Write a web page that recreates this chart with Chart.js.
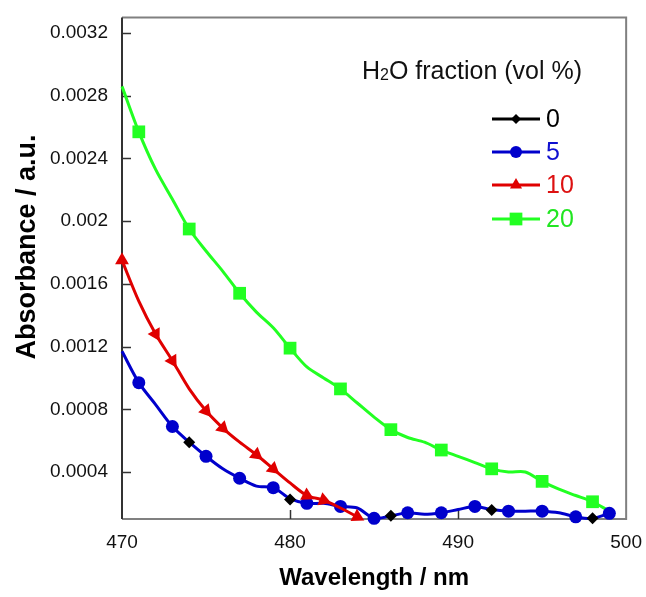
<!DOCTYPE html>
<html>
<head>
<meta charset="utf-8">
<script src="https://cdn.jsdelivr.net/npm/chart.js@4.4.0/dist/chart.umd.min.js"></script>
<style>
  html, body { margin: 0; padding: 0; background: #fff; }
</style>
</head>
<body>
<canvas id="absorbanceChart" width="646" height="597"></canvas>
<script>
// Wavelength grid (nm)
const wl5 = [470, 471, 472, 473, 474, 475, 476, 477, 478, 479, 480, 481, 482, 483, 484,
             485, 486, 487, 488, 489, 490, 491, 492, 493, 494, 495, 496, 497, 498, 499];
const wl10 = [470, 471, 472, 473, 474, 475, 476, 477, 478, 479, 480, 481, 482, 483, 484];
const wl20 = wl5;
const wl0 = [474, 480, 486, 492, 498];

// Absorbance per H2O fraction
const abs0 = [0.00059, 0.000225, 0.00012, 0.000157, 0.000104];
const abs5 = [0.00117, 0.00097, 0.00083, 0.00069, 0.00059, 0.00050, 0.00042, 0.00036, 0.00031, 0.00030,
              0.00023, 0.00020, 0.00020, 0.00018, 0.00017, 0.000104, 0.00012, 0.00014, 0.00013, 0.00014,
              0.00016, 0.00018, 0.00016, 0.00015, 0.00015, 0.00015, 0.00014, 0.000114, 0.000104, 0.000136];
const abs10 = [0.00175, 0.00149, 0.00128, 0.00111, 0.00093, 0.00079, 0.00068, 0.00059, 0.00051, 0.00042,
               0.00033, 0.00025, 0.00022, 0.00017, 0.000114];
const abs20 = [0.00286, 0.00257, 0.00233, 0.00214, 0.00195, 0.00181, 0.00168, 0.00154, 0.00142, 0.00132,
               0.00119, 0.00107, 0.00100, 0.00093, 0.00084, 0.00075, 0.00067, 0.00062, 0.00059, 0.00054,
               0.00050, 0.00046, 0.00042, 0.00040, 0.00040, 0.00034, 0.00029, 0.00025, 0.00021, 0.00015];

// wavelengths carrying a marker
const marks5 = [471, 473, 475, 477, 479, 481, 483, 485, 487, 489, 491, 493, 495, 497, 499];
const marks10 = [470, 472, 473, 475, 476, 478, 479, 481, 482, 484];
const marks20 = [471, 474, 477, 480, 483, 486, 489, 492, 495, 498];

const seriesLabels = ['0', '5', '10', '20'];
const xTicks = [470, 480, 490, 500];
const yTicks = [0.0004, 0.0008, 0.0012, 0.0016, 0.002, 0.0024, 0.0028, 0.0032];

const FONT = "'Liberation Sans', Arial, sans-serif";

function toPoints(xs, ys) {
    return xs.map((x, i) => ({ x: x, y: ys[i] }));
}

function markerRadius(marks, r) {
    return ctx => marks.includes(ctx.raw.x) ? r : 0;
}

// triangles point along the curve
function arrowRotation(ctx) {
    const data = ctx.dataset.data;
    const i = ctx.dataIndex;
    if (i === 0) return 0;
    const xs = ctx.chart.scales.x, ys = ctx.chart.scales.y;
    if (!xs || !ys) return 0;
    const a = data[i - 1], b = data[Math.min(i + 1, data.length - 1)];
    const dx = xs.getPixelForValue(b.x) - xs.getPixelForValue(a.x);
    const dy = ys.getPixelForValue(b.y) - ys.getPixelForValue(a.y);
    return 90 + Math.atan2(dy, dx) * 180 / Math.PI;
}

function drawMarker(ctx, style, x, y, r) {
    ctx.beginPath();
    if (style === 'circle') {
        ctx.arc(x, y, r, 0, Math.PI * 2);
    } else if (style === 'rect') {
        const s = r * Math.SQRT1_2;
        ctx.rect(x - s, y - s, 2 * s, 2 * s);
    } else if (style === 'rectRot') {
        ctx.moveTo(x, y - r); ctx.lineTo(x + r, y); ctx.lineTo(x, y + r); ctx.lineTo(x - r, y);
        ctx.closePath();
    } else if (style === 'triangle') {
        for (let k = 0; k < 3; k++) {
            const ang = -Math.PI / 2 + k * 2 * Math.PI / 3;
            const px = x + Math.cos(ang) * r, py = y + Math.sin(ang) * r;
            if (k === 0) ctx.moveTo(px, py); else ctx.lineTo(px, py);
        }
        ctx.closePath();
    }
    ctx.fill();
}

// Frame with inward tick marks, titles and legend
const framePlugin = {
    id: 'frame',
    beforeDatasetsDraw(chart) {
        const { ctx, chartArea: a, scales } = chart;
        ctx.save();
        ctx.lineWidth = 2;
        ctx.strokeStyle = '#808080';
        ctx.beginPath();
        ctx.moveTo(a.left, a.top); ctx.lineTo(a.right, a.top); ctx.lineTo(a.right, a.bottom); ctx.lineTo(a.left, a.bottom);
        ctx.stroke();
        ctx.strokeStyle = '#333';
        ctx.beginPath();
        ctx.moveTo(a.left, a.top); ctx.lineTo(a.left, a.bottom);
        ctx.stroke();
        ctx.lineWidth = 1.5;
        yTicks.forEach(v => {
            const y = Math.round(scales.y.getPixelForValue(v)) + 0.5;
            ctx.beginPath(); ctx.moveTo(a.left, y); ctx.lineTo(a.left + 9, y); ctx.stroke();
        });
        xTicks.slice(1, -1).forEach(v => {
            const x = Math.round(scales.x.getPixelForValue(v)) + 0.5;
            ctx.beginPath(); ctx.moveTo(x, a.bottom); ctx.lineTo(x, a.bottom - 9); ctx.stroke();
        });
        ctx.restore();
    },
    afterDraw(chart) {
        const { ctx, chartArea: a } = chart;
        ctx.save();
        ctx.fillStyle = '#000';
        ctx.textAlign = 'center';
        ctx.textBaseline = 'middle';
        ctx.font = 'bold 24px ' + FONT;
        ctx.fillText('Wavelength / nm', (a.left + a.right) / 2, 578);
        ctx.font = 'bold 27px ' + FONT;
        ctx.translate(28, 247);
        ctx.rotate(-Math.PI / 2);
        ctx.fillText('Absorbance / a.u.', 0, 0);
        ctx.restore();

        // legend
        ctx.save();
        ctx.fillStyle = '#111';
        ctx.textBaseline = 'alphabetic';
        ctx.textAlign = 'left';
        let tx = 362;
        const base = 79;
        ctx.font = '25px ' + FONT;
        ctx.fillText('H', tx, base); tx += ctx.measureText('H').width;
        ctx.font = '16px ' + FONT;
        ctx.fillText('2', tx, base + 1); tx += ctx.measureText('2').width;
        ctx.font = '25px ' + FONT;
        ctx.fillText('O fraction (vol %)', tx, base);

        const rowsY = [119, 152, 185, 219];
        const textColors = ['#000', '#1010d0', '#dd1111', '#22e622'];
        chart.data.datasets.forEach((ds, i) => {
            const y = rowsY[i];
            ctx.strokeStyle = ds.borderColor;
            ctx.lineWidth = 3;
            ctx.beginPath(); ctx.moveTo(492, y); ctx.lineTo(540, y); ctx.stroke();
            ctx.fillStyle = ds.backgroundColor;
            drawMarker(ctx, ds.pointStyle, 516, y, ds.legendRadius);
            ctx.fillStyle = textColors[i];
            ctx.font = '25px ' + FONT;
            ctx.textBaseline = 'middle';
            ctx.fillText(ds.label, 546, y + 1);
        });
        ctx.restore();
    }
};

const chartCtx = document.getElementById('absorbanceChart').getContext('2d');
new Chart(chartCtx, {
    type: 'line',
    data: {
        datasets: [
            {
                label: seriesLabels[0],
                data: toPoints(wl0, abs0),
                showLine: false,
                borderColor: '#000000',
                backgroundColor: '#000000',
                pointStyle: 'rectRot',
                pointRadius: 6,
                pointBorderWidth: 0,
                legendRadius: 5,
                order: 0
            },
            {
                label: seriesLabels[1],
                data: toPoints(wl5, abs5),
                borderColor: '#0000cc',
                backgroundColor: '#0000cc',
                pointStyle: 'circle',
                pointRadius: markerRadius(marks5, 6.5),
                legendRadius: 6,
                order: 2
            },
            {
                label: seriesLabels[2],
                data: toPoints(wl10, abs10),
                borderColor: '#e00000',
                backgroundColor: '#e00000',
                pointStyle: 'triangle',
                pointRadius: markerRadius(marks10, 8),
                pointRotation: arrowRotation,
                legendRadius: 7,
                order: 1
            },
            {
                label: seriesLabels[3],
                data: toPoints(wl20, abs20),
                borderColor: '#22ff22',
                backgroundColor: '#22ff22',
                pointStyle: 'rect',
                pointRadius: markerRadius(marks20, 9),
                legendRadius: 9,
                order: 3
            }
        ]
    },
    options: {
        responsive: false,
        animation: false,
        clip: false,
        elements: {
            line: { borderWidth: 3, tension: 0.3 },
            point: { borderWidth: 0, hoverRadius: 0 }
        },
        layout: { padding: { top: 3, right: 13, left: 0, bottom: 0 } },
        plugins: {
            legend: { display: false },
            tooltip: { enabled: false }
        },
        scales: {
            x: {
                type: 'linear',
                min: 470,
                max: 500,
                grid: { display: false },
                border: { display: false },
                afterBuildTicks: scale => { scale.ticks = xTicks.map(v => ({ value: v })); },
                afterFit: scale => { scale.height = 78; },
                ticks: {
                    padding: 4,
                    color: '#111',
                    font: { family: FONT, size: 19 },
                    maxRotation: 0
                }
            },
            y: {
                min: 0.0001,
                max: 0.0033,
                grid: { display: false },
                border: { display: false },
                afterBuildTicks: scale => { scale.ticks = yTicks.map(v => ({ value: v })); },
                afterFit: scale => { scale.width = 122; },
                ticks: {
                    padding: 6,
                    color: '#111',
                    font: { family: FONT, size: 19 },
                    callback: v => String(Number(v.toPrecision(2)))
                }
            }
        }
    },
    plugins: [framePlugin]
});
</script>
</body>
</html>
